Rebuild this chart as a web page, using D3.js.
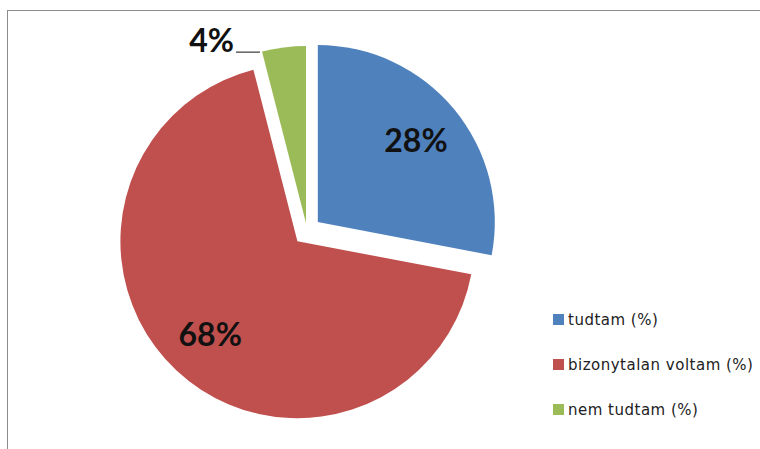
<!DOCTYPE html>
<html>
<head>
<meta charset="utf-8">
<script src="https://cdn.jsdelivr.net/npm/d3@7"></script>
<style>
  html, body { margin: 0; padding: 0; background: #fff; }
  svg { display: block; }
</style>
</head>
<body>
<svg id="chart" width="760" height="449"></svg>
<script>
// ---- data ----
const categories = ["tudtam (%)", "bizonytalan voltam (%)", "nem tudtam (%)"];
const values = [28, 68, 4];
const colors = ["#4F81BD", "#C0504D", "#9BBB59"];

// ---- layout ----
const W = 760, H = 449;
const cx = 307, cy = 231, R = 177;
const explode = [14, 14, 8];

const svg = d3.select("#chart");

// frame
svg.append("rect")
  .attr("x", 7.5).attr("y", 10.5)
  .attr("width", 800).attr("height", 500)
  .attr("fill", "none").attr("stroke", "#8c8c8c").attr("stroke-width", 1);

const pie = d3.pie().sort(null).value(d => d.value);
const arcs = pie(categories.map((c, i) => ({ name: c, value: values[i], i })));
const total = d3.sum(values);
const arc = d3.arc().innerRadius(0).outerRadius(R);

const g = svg.append("g").attr("transform", `translate(${cx},${cy})`);

function offset(a, i) {
  const m = (a.startAngle + a.endAngle) / 2;
  return [Math.sin(m) * explode[i], -Math.cos(m) * explode[i]];
}

const slices = g.selectAll("g.slice").data(arcs).enter().append("g")
  .attr("class", "slice")
  .attr("transform", (d, i) => { const o = offset(d, i); return `translate(${o[0]},${o[1]})`; });

slices.append("path")
  .attr("d", arc)
  .attr("fill", (d, i) => colors[i]);

const fmt = v => Math.round(v / total * 100) + "%";
const labelFont = "Lato, 'Open Sans', sans-serif";

// inside labels for big slices, outside with leader for small slice
slices.each(function (d, i) {
  const sel = d3.select(this);
  const frac = d.value / total;
  if (frac > 0.1) {
    const m = (d.startAngle + d.endAngle) / 2;
    const rr = R * 0.72;
    sel.append("text")
      .attr("x", Math.sin(m) * rr)
      .attr("y", -Math.cos(m) * rr)
      .attr("dy", "0.36em")
      .attr("text-anchor", "middle")
      .attr("font-family", labelFont)
      .attr("font-weight", 700)
      .attr("font-size", 32)
      .attr("fill", "#111")
      .text(fmt(d.value));
  } else {
    const a = d.startAngle;
    const px = Math.sin(a) * R, py = -Math.cos(a) * R;
    sel.append("line")
      .attr("x1", px - 2).attr("y1", py + 0.5)
      .attr("x2", px - 26).attr("y2", py + 0.5)
      .attr("stroke", "#111").attr("stroke-width", 1);
    sel.append("text")
      .attr("x", px - 28)
      .attr("y", py)
      .attr("text-anchor", "end")
      .attr("font-family", labelFont)
      .attr("font-weight", 700)
      .attr("font-size", 32)
      .attr("fill", "#111")
      .text(fmt(d.value));
  }
});

// legend
const legend = svg.append("g").attr("transform", "translate(553,0)");
const legendY = d3.scalePoint().domain(categories).range([320, 410]);
const items = legend.selectAll("g").data(categories).enter().append("g")
  .attr("transform", d => `translate(0,${legendY(d)})`);
items.append("rect")
  .attr("x", 0).attr("y", -6).attr("width", 11).attr("height", 11)
  .attr("fill", (d, i) => colors[i]);
items.append("text")
  .attr("x", 15).attr("y", 0).attr("dy", "0.35em")
  .attr("font-family", "'DejaVu Sans', sans-serif")
  .attr("font-size", 15)
  .attr("letter-spacing", 0.5)
  .attr("fill", "#222")
  .text(d => d);
</script>
</body>
</html>
